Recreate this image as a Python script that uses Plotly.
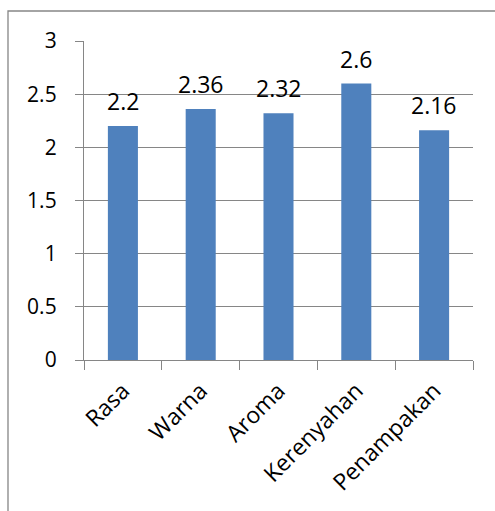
import plotly.graph_objects as go

categories = ["Rasa", "Warna", "Aroma", "Kerenyahan", "Penampakan"]
values = [2.2, 2.36, 2.32, 2.6, 2.16]
value_labels = ["2.2", "2.36", "2.32", "2.6", "2.16"]
y_ticks = [0, 0.5, 1, 1.5, 2, 2.5, 3]
y_tick_labels = ["0", "0.5", "1", "1.5", "2", "2.5", "3"]

FONT = "Open Sans"
GRID = "#868686"
BAR = "#4F81BD"

W, H = 495, 511
ml, mr, mt, mb = 84, 22, 41, 151
pw, ph = W - ml - mr, H - mt - mb

fig = go.Figure()
fig.add_trace(go.Bar(x=categories, y=values, marker=dict(color=BAR, line=dict(width=0)),
                     hoverinfo="skip"))

for c, v, t in zip(categories, values, value_labels):
    fig.add_annotation(x=c, y=v, text=t, showarrow=False, yanchor="bottom",
                       yshift=7, font=dict(family=FONT, size=23, color="#000000"))

# outer chart-area border (extends beyond the cropped picture)
fig.add_shape(type="rect", xref="paper", yref="paper",
              x0=(8 - ml) / pw, x1=2.0, y0=-2.0, y1=(H - mb - 11) / ph,
              line=dict(color=GRID, width=1.3), layer="below")

fig.update_layout(
    width=W, height=H,
    margin=dict(l=ml, r=mr, t=mt, b=mb, pad=0),
    paper_bgcolor="white", plot_bgcolor="white",
    bargap=0.614, showlegend=False,
    font=dict(family=FONT, size=21, color="#000000"),
)
fig.update_xaxes(showgrid=False, showline=True, linecolor=GRID, linewidth=1.3,
                 ticks="outside", ticklen=9, tickcolor=GRID, tickwidth=1.3,
                 tickson="boundaries", tickangle=-45, ticklabelstandoff=7,
                 tickfont=dict(family=FONT, size=23))
fig.update_yaxes(range=[0, 3], tickvals=y_ticks, ticktext=y_tick_labels,
                 showgrid=True, gridcolor=GRID, gridwidth=1.3,
                 showline=True, linecolor=GRID, linewidth=1.3,
                 ticks="outside", ticklen=8, tickcolor=GRID, tickwidth=1.3,
                 zeroline=False, ticklabelstandoff=14,
                 tickfont=dict(family=FONT, size=21))

fig.write_html("out.html")
